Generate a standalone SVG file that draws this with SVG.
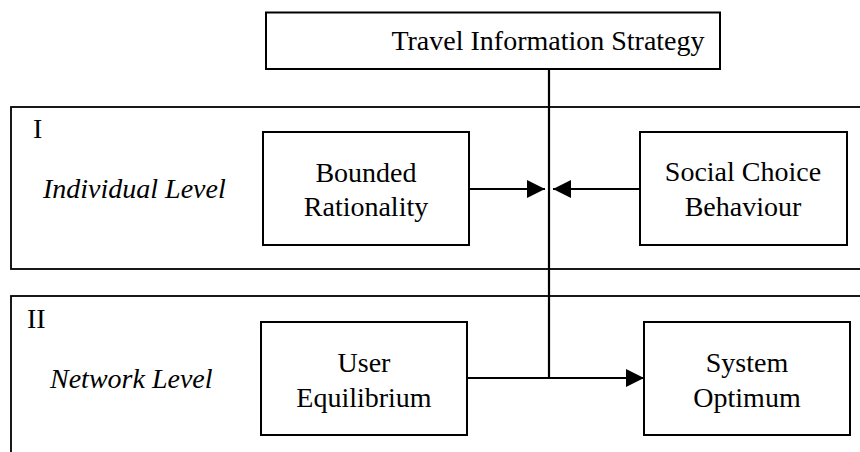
<svg xmlns="http://www.w3.org/2000/svg" width="860" height="452" viewBox="0 0 860 452">
  <style>
    .box { fill: #fff; stroke: #000; stroke-width: 2; }
    .panel { fill: none; stroke: #000; stroke-width: 1.8; }
    .lbl { font-family: 'Liberation Serif', Tinos, 'Times New Roman', Times, 'DejaVu Serif', serif; font-size: 28px; fill: #000; }
    .c { text-anchor: middle; }
    .it { font-style: italic; }
    .wire { fill: none; stroke: #000; stroke-width: 2.2; }
  </style>
  <defs>
    <marker id="arrow" viewBox="0 0 18 18" refX="18" refY="9" markerWidth="18" markerHeight="18" markerUnits="userSpaceOnUse" orient="auto">
      <path d="M0,0 L18,9 L0,18 Z" fill="#000"/>
    </marker>
  </defs>

  <!-- level panels -->
  <g id="panel-individual">
    <rect class="panel" x="11" y="107" width="870" height="162"/>
    <text class="lbl" x="33" y="138" font-family="Liberation Serif, serif">I</text>
    <text class="lbl it" x="43" y="198" font-family="Liberation Serif, serif">Individual Level</text>
  </g>
  <g id="panel-network">
    <rect class="panel" x="11" y="296" width="870" height="180"/>
    <text class="lbl" x="27" y="328" font-family="Liberation Serif, serif">II</text>
    <text class="lbl it" x="50" y="388" font-family="Liberation Serif, serif">Network Level</text>
  </g>

  <!-- connectors -->
  <g id="connectors">
    <path class="wire" d="M549,69 L549,378"/>
    <path class="wire" d="M469,189 L545,189" marker-end="url(#arrow)"/>
    <path class="wire" d="M640,189 L553,189" marker-end="url(#arrow)"/>
    <path class="wire" d="M467,378 L644,378" marker-end="url(#arrow)"/>
  </g>

  <!-- nodes -->
  <g id="strategy">
    <rect class="box" x="266" y="12.5" width="454" height="56.5"/>
    <text class="lbl c" x="548" y="50">Travel Information Strategy</text>
  </g>
  <g id="bounded-rationality">
    <rect class="box" x="263" y="132" width="206" height="113"/>
    <text class="lbl c" x="366" y="182">Bounded</text>
    <text class="lbl c" x="366" y="216">Rationality</text>
  </g>
  <g id="social-choice">
    <rect class="box" x="640" y="132" width="207" height="113"/>
    <text class="lbl c" x="743" y="181">Social Choice</text>
    <text class="lbl c" x="743" y="216">Behaviour</text>
  </g>
  <g id="user-equilibrium">
    <rect class="box" x="261" y="322" width="206" height="113"/>
    <text class="lbl c" x="364" y="372">User</text>
    <text class="lbl c" x="364" y="407">Equilibrium</text>
  </g>
  <g id="system-optimum">
    <rect class="box" x="644" y="322" width="206" height="113"/>
    <text class="lbl c" x="747" y="372">System</text>
    <text class="lbl c" x="747" y="407">Optimum</text>
  </g>
</svg>
